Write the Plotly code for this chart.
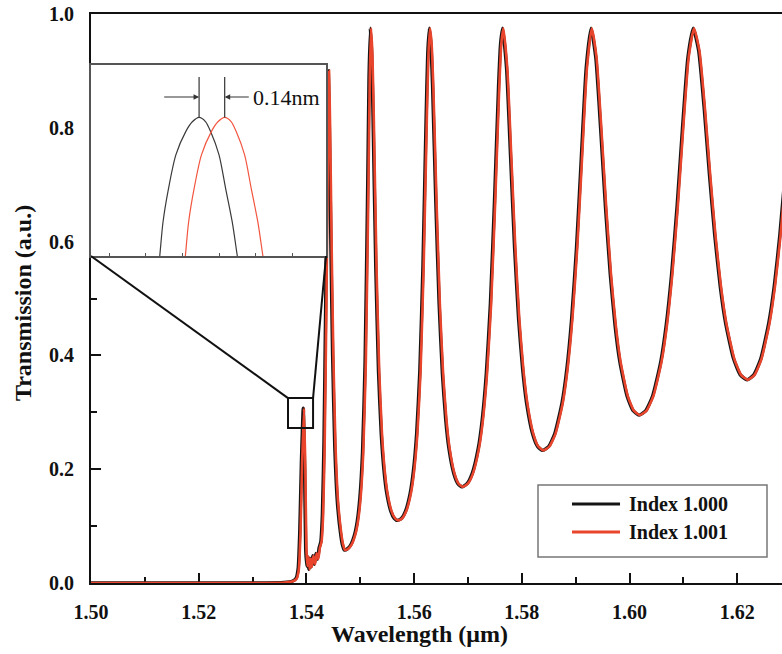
import plotly.graph_objects as go

# ---------------- data ----------------
wavelength_um = [
    1.5000, 1.5300, 1.5360, 1.5375, 1.5382, 1.5386, 1.5389, 1.5392, 1.53955, 1.5398,
    1.5400, 1.5402, 1.5404, 1.5406, 1.5408, 1.5410, 1.5413, 1.5416, 1.5419, 1.5422,
    1.5425, 1.5428, 1.5431, 1.5434, 1.5437, 1.5440, 1.5442, 1.5444, 1.5447, 1.5450,
    1.5454, 1.5459, 1.5465, 1.5468, 1.54717,
    1.54777, 1.54838, 1.54910, 1.54959, 1.55007, 1.55055, 1.55103, 1.55152, 1.55176, 1.55200,
    1.55225, 1.55251, 1.55301, 1.55352, 1.55403, 1.55454, 1.55504, 1.55580, 1.55644, 1.55707,
    1.55781, 1.55854, 1.55942, 1.56001, 1.56060, 1.56119, 1.56177, 1.56236, 1.56266, 1.56295,
    1.56325, 1.56356, 1.56416, 1.56477, 1.56538, 1.56599, 1.56659, 1.56750, 1.56826, 1.56902,
    1.56996, 1.57091, 1.57204, 1.57279, 1.57354, 1.57430, 1.57505, 1.57581, 1.57618, 1.57656,
    1.57730, 1.57805, 1.57879, 1.57953, 1.58028, 1.58102, 1.58213, 1.58306, 1.58399,
    1.58511, 1.58624, 1.58759, 1.58849, 1.58938, 1.59028, 1.59118, 1.59208, 1.59298,
    1.59387, 1.59476, 1.59566, 1.59655, 1.59744, 1.59833, 1.59967, 1.60078, 1.60190,
    1.60316, 1.60442, 1.60593, 1.60694, 1.60794, 1.60895, 1.60996, 1.61096, 1.61197,
    1.61297, 1.61397, 1.61496, 1.61596, 1.61696, 1.61796, 1.61946, 1.62070, 1.62195,
    1.62321, 1.62448, 1.62599, 1.62701, 1.62802, 1.62903,
]
transmission = [
    0.000, 0.000, 0.001, 0.003, 0.008, 0.025, 0.090, 0.210, 0.307, 0.200,
    0.060, 0.030, 0.046, 0.024, 0.043, 0.028, 0.048, 0.033, 0.052, 0.042,
    0.062, 0.072, 0.120, 0.250, 0.480, 0.760, 0.900, 0.800, 0.580, 0.400,
    0.240, 0.140, 0.085, 0.068, 0.058,
    0.0602, 0.0673, 0.0859, 0.1095, 0.1509, 0.2289, 0.3885, 0.703, 0.8885, 0.975,
    0.930, 0.8177, 0.5569, 0.3720, 0.2623, 0.1977, 0.1586, 0.1264, 0.1138, 0.110,
    0.1138, 0.1264, 0.1586, 0.1977, 0.2623, 0.3720, 0.5569, 0.8177, 0.930, 0.975,
    0.947, 0.8731, 0.6699, 0.4917, 0.3683, 0.2881, 0.2366, 0.1923, 0.1745, 0.169,
    0.1745, 0.1923, 0.2366, 0.2881, 0.3683, 0.4917, 0.6699, 0.8731, 0.947, 0.975,
    0.9045, 0.7476, 0.5886, 0.4642, 0.3761, 0.3161, 0.2622, 0.2399, 0.233,
    0.2399, 0.2622, 0.3161, 0.3761, 0.4642, 0.5886, 0.7476, 0.9045, 0.975,
    0.9229, 0.7991, 0.6610, 0.5428, 0.4530, 0.3887, 0.3286, 0.3031, 0.295,
    0.3031, 0.3286, 0.3887, 0.4530, 0.5428, 0.6610, 0.7991, 0.9229, 0.975,
    0.9354, 0.8367, 0.7186, 0.6101, 0.5223, 0.4571, 0.3935, 0.3658, 0.357,
    0.3658, 0.3935, 0.4571, 0.5223, 0.6101, 0.7186,
]
# the index 1.000 spectrum sits 0.14 nm (0.00014 um) to the short side of index 1.001
peak_shift_um = 0.00014
peak_shift_nm = 0.14

# inset: magnified small peak (index 1.000), wavelength in nm
inset_wavelength_nm = [1539.257, 1539.276, 1539.294, 1539.324, 1539.364, 1539.418, 1539.454,
                       1539.491, 1539.527, 1539.554, 1539.600, 1539.636, 1539.672, 1539.700, 1539.730]
inset_transmission = [0.235, 0.250, 0.264, 0.2776, 0.2913, 0.3008, 0.3048,
                      0.3066, 0.3048, 0.3008, 0.2913, 0.2776, 0.264, 0.250, 0.235]

series_names = ["Index 1.000", "Index 1.001"]

BLACK = "#151515"
RED = "#e8452c"
FONT = "Liberation Serif, Times New Roman, serif"

black_x = [w - peak_shift_um for w in wavelength_um]
red_x = wavelength_um
inset_red_x = [w + peak_shift_nm for w in inset_wavelength_nm]

fig = go.Figure()
fig.add_trace(go.Scatter(x=black_x, y=transmission, mode="lines", name=series_names[0],
                         line=dict(color=BLACK, width=3.4, shape="spline", smoothing=0.5),
                         xaxis="x", yaxis="y", showlegend=False))
fig.add_trace(go.Scatter(x=red_x, y=transmission, mode="lines", name=series_names[1],
                         line=dict(color=RED, width=2.6, shape="spline", smoothing=0.5),
                         xaxis="x", yaxis="y", showlegend=False))
fig.add_trace(go.Scatter(x=inset_wavelength_nm, y=inset_transmission, mode="lines",
                         line=dict(color="#3a3a3a", width=1.2, shape="spline", smoothing=0.8),
                         xaxis="x2", yaxis="y2", showlegend=False))
fig.add_trace(go.Scatter(x=inset_red_x, y=inset_transmission, mode="lines",
                         line=dict(color="#f2553f", width=1.2, shape="spline", smoothing=0.8),
                         xaxis="x2", yaxis="y2", showlegend=False))

tickfont = dict(family=FONT, size=20, color="#111", weight="bold")

fig.update_layout(
    width=782, height=654,
    margin=dict(l=91, r=0, t=14, b=71, autoexpand=False),
    paper_bgcolor="white", plot_bgcolor="white",
    font=dict(family=FONT, color="#111"),
    showlegend=False,
    xaxis=dict(domain=[0, 1], range=[1.50, 1.6283], anchor="y", automargin=False,
               showline=True, linecolor="#111", linewidth=2, mirror=True,
               ticks="inside", ticklen=10, tickwidth=2, tickcolor="#111",
               tick0=1.50, dtick=0.02, tickformat=".2f",
               minor=dict(ticks="inside", ticklen=6, tickwidth=2, tickcolor="#111", dtick=0.01),
               tickfont=tickfont, ticklabelstandoff=10,
               showgrid=False, zeroline=False, layer="below traces"),
    yaxis=dict(domain=[0, 1], range=[0, 1.0], anchor="x", automargin=False,
               showline=True, linecolor="#111", linewidth=2, mirror=False,
               ticks="inside", ticklen=10, tickwidth=2, tickcolor="#111",
               tick0=0, dtick=0.2, tickformat=".1f",
               minor=dict(ticks="inside", ticklen=6, tickwidth=2, tickcolor="#111", dtick=0.1),
               tickfont=tickfont, ticklabelstandoff=11,
               showgrid=False, zeroline=False, layer="below traces"),
    xaxis2=dict(domain=[0.0, 0.3401], range=[1538.9, 1540.185], anchor="y2", automargin=False,
                showline=True, linecolor="#555", linewidth=1.5, mirror=True,
                ticks="inside", ticklen=3, tickwidth=1, tickcolor="#555",
                tick0=1539.0, dtick=0.2, showticklabels=False,
                showgrid=False, zeroline=False),
    yaxis2=dict(domain=[0.5747, 0.9104], range=[0.25, 0.328], anchor="x2", automargin=False,
                showline=True, linecolor="#555", linewidth=1.5, mirror=True,
                ticks="", showticklabels=False, showgrid=False, zeroline=False),
)

shapes = []
# zoom box on the small peak and connector lines to the inset
box = dict(x0=1.53658, x1=1.54123, y0=0.2724, y1=0.325)
shapes.append(dict(type="rect", xref="x", yref="y", **box, line=dict(color="#111", width=2)))
shapes.append(dict(type="line", xref="x", yref="y", x0=1.5000, y0=0.5747, x1=box["x0"], y1=box["y1"],
                   line=dict(color="#111", width=2)))
shapes.append(dict(type="line", xref="x", yref="y", x0=1.54364, y0=0.5747, x1=box["x1"], y1=box["y1"],
                   line=dict(color="#111", width=2)))
# inset peak markers
peak_b = inset_wavelength_nm[7]
peak_r = inset_red_x[7]
for px in (peak_b, peak_r):
    shapes.append(dict(type="line", xref="x2", yref="y2", x0=px, x1=px, y0=inset_transmission[7], y1=0.3231,
                       line=dict(color="#333", width=1.2)))
# manual legend
shapes.append(dict(type="rect", xref="paper", yref="paper", x0=0.6469, x1=0.9783, y0=0.0457, y1=0.1722,
                   line=dict(color="#777", width=1.5), fillcolor="white", layer="above"))
legend_rows = [0.1388, 0.0896]
legend_colors = [BLACK, RED]
for yy, cc in zip(legend_rows, legend_colors):
    shapes.append(dict(type="line", xref="paper", yref="paper", x0=0.6961, x1=0.7656, y0=yy, y1=yy,
                       line=dict(color=cc, width=3), layer="above"))
fig.update_layout(shapes=shapes)

ann = []
for yy, nm in zip(legend_rows, series_names):
    ann.append(dict(xref="paper", yref="paper", x=0.7757, y=yy, text=nm, showarrow=False,
                    xanchor="left", yanchor="middle",
                    font=dict(family=FONT, size=20, color="#111", weight="bold")))
# inset arrows and label
ann.append(dict(xref="x2", yref="y2", axref="x2", ayref="y2", x=peak_b, y=0.3149, ax=1539.292, ay=0.3149,
                text="", showarrow=True, arrowhead=2, arrowsize=1, arrowwidth=1.1, arrowcolor="#333"))
ann.append(dict(xref="x2", yref="y2", axref="x2", ayref="y2", x=peak_r, y=0.3149, ax=1539.771, ay=0.3149,
                text="", showarrow=True, arrowhead=2, arrowsize=1, arrowwidth=1.1, arrowcolor="#333"))
ann.append(dict(xref="x2", yref="y2", x=1539.775, y=0.3149, text="0.14nm", showarrow=False,
                xanchor="left", yanchor="middle", font=dict(family=FONT, size=22, color="#111")))
# axis titles
ann.append(dict(xref="paper", yref="paper", x=0.476, y=-0.0895, text="Wavelength (μm)", showarrow=False,
                xanchor="center", yanchor="middle",
                font=dict(family=FONT, size=24, color="#111", weight="bold")))
ann.append(dict(xref="paper", yref="paper", x=-0.0984, y=0.492, text="Transmission (a.u.)", showarrow=False,
                textangle=-90, xanchor="center", yanchor="middle",
                font=dict(family=FONT, size=24, color="#111", weight="bold")))
fig.update_layout(annotations=ann)

fig.write_html("out.html", config={"displayModeBar": False},
               post_script="document.body.style.margin='0';document.body.style.padding='0';")
